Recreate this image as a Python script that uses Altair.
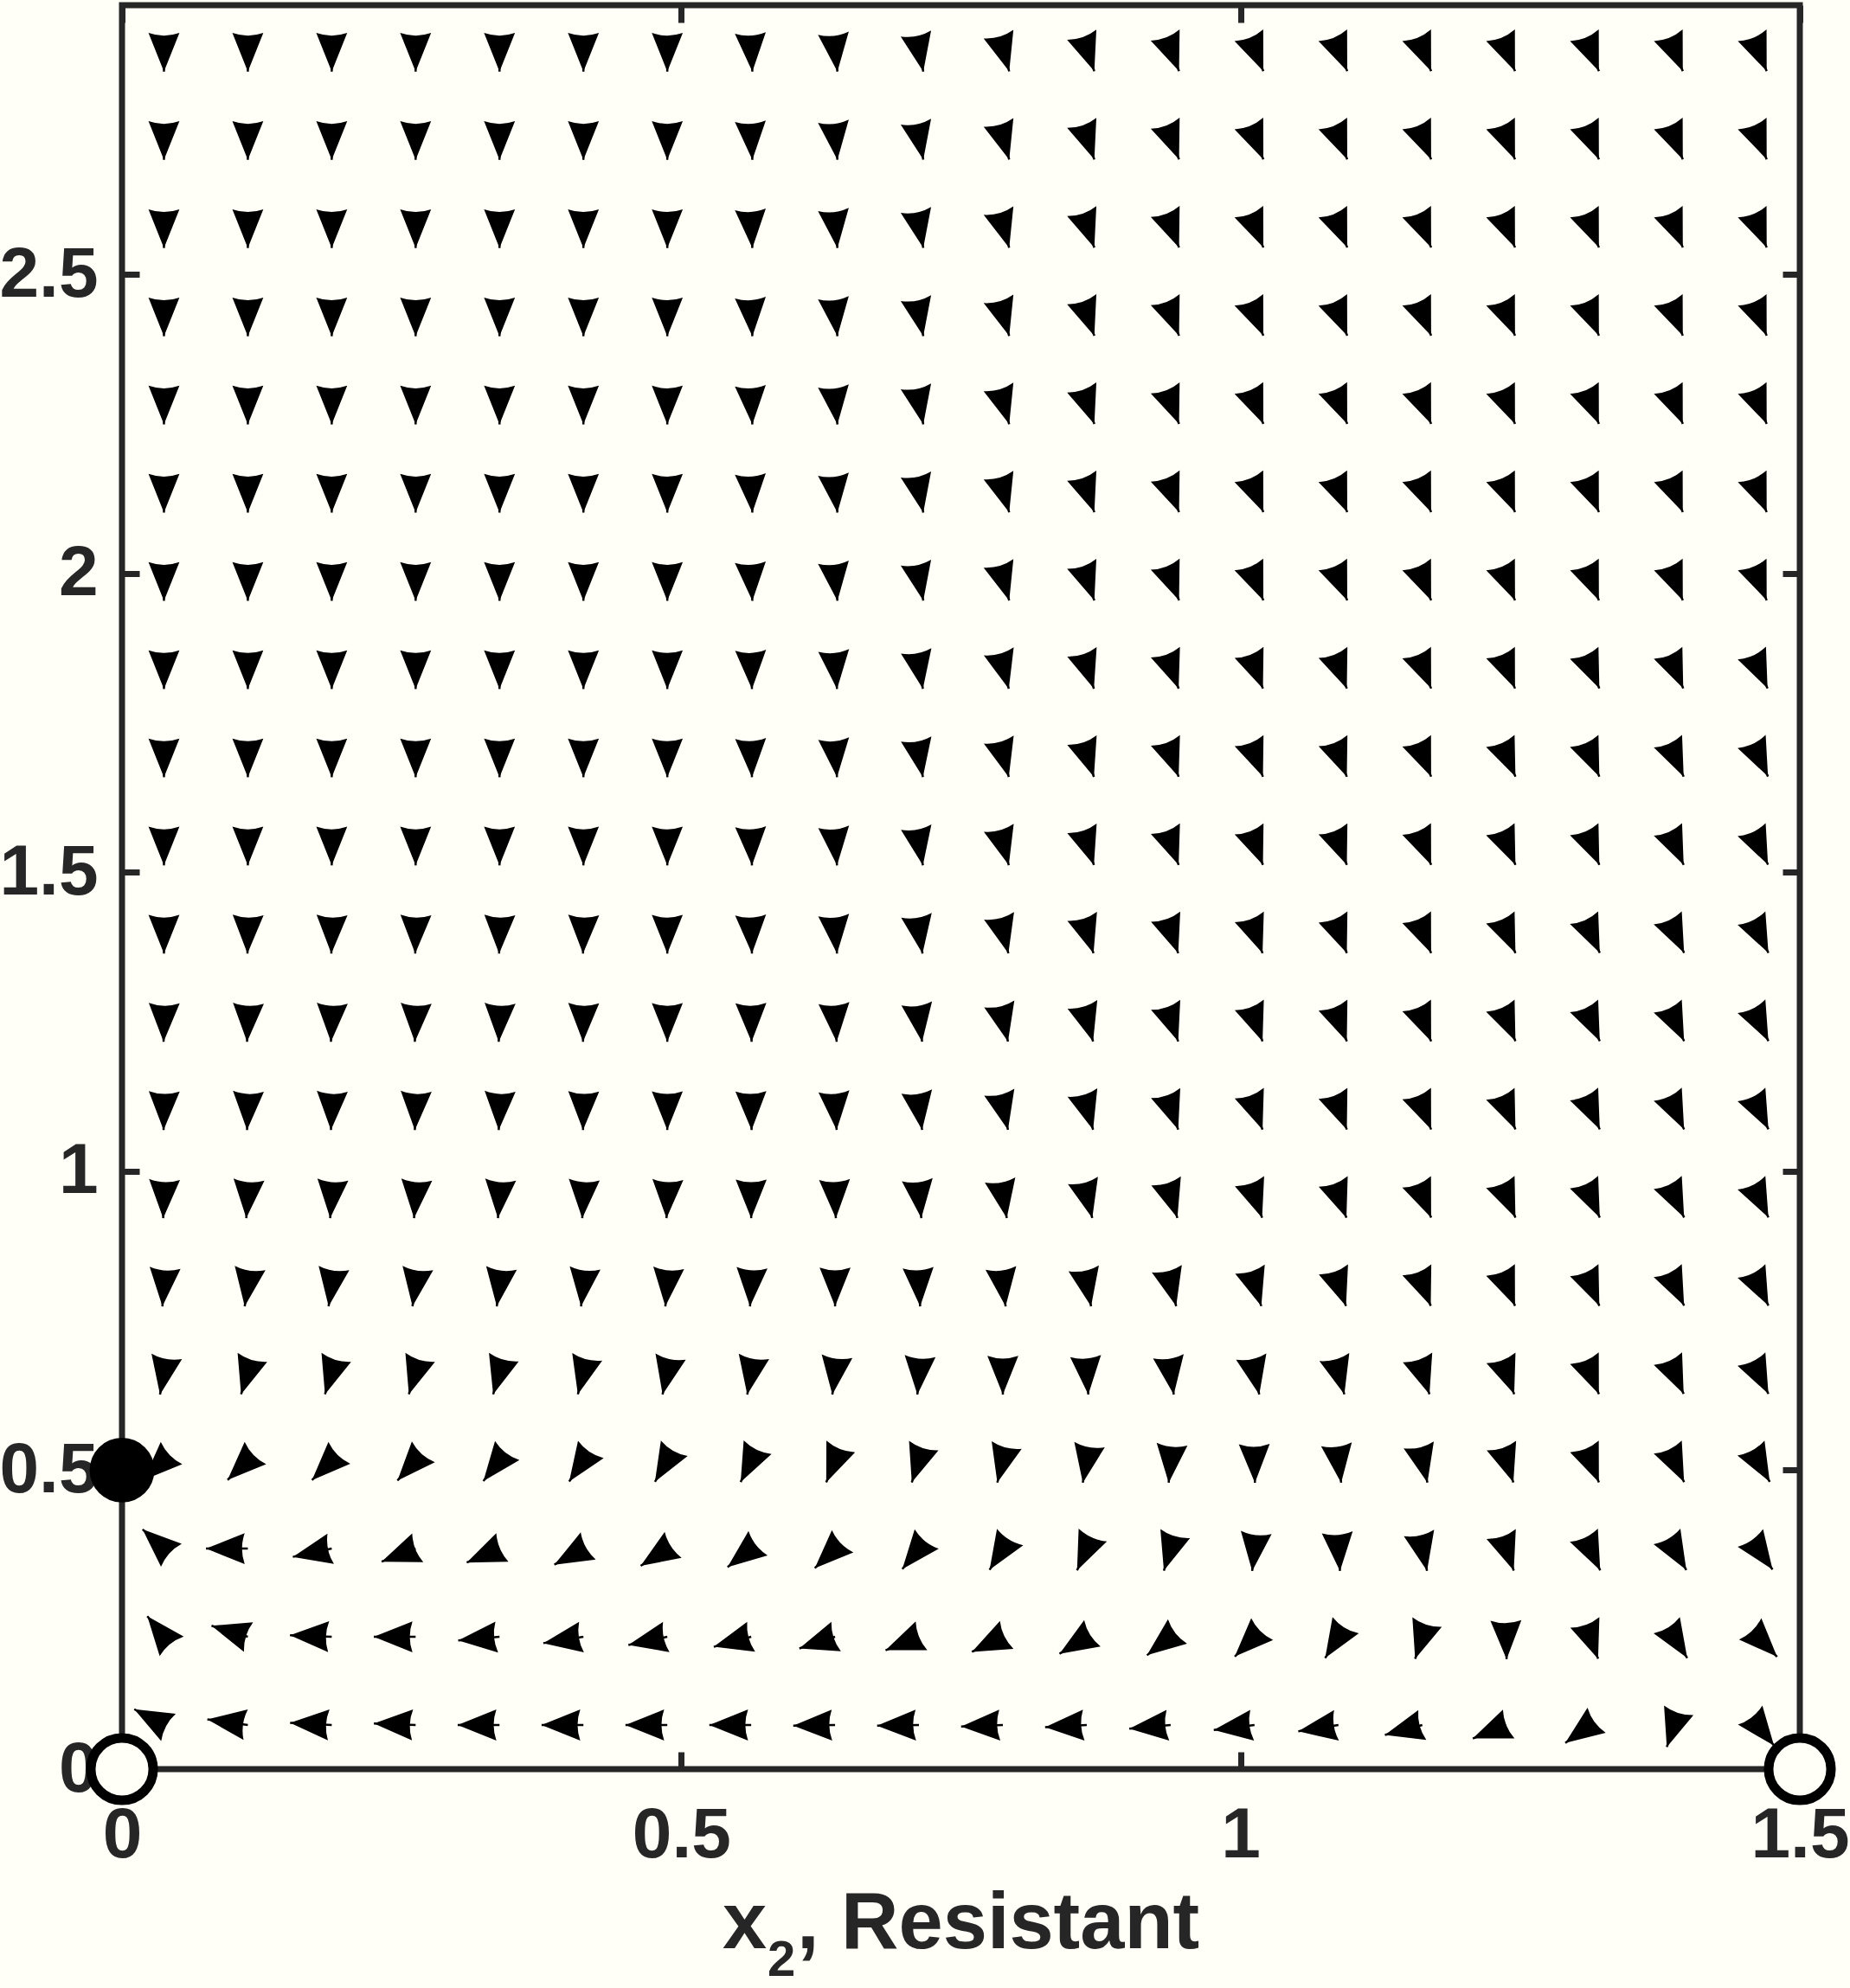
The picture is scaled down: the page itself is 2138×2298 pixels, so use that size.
import altair as alt
import pandas as pd

# ---------------- data ----------------
# grid of the direction field (cell centres)
x_grid = [0.0375, 0.1125, 0.1875, 0.2625, 0.3375, 0.4125, 0.4875, 0.5625, 0.6375, 0.7125,
          0.7875, 0.8625, 0.9375, 1.0125, 1.0875, 1.1625, 1.2375, 1.3125, 1.3875, 1.4625]
y_grid = [0.0738, 0.2213, 0.3688, 0.5163, 0.6638, 0.8113, 0.9588, 1.1063, 1.2538, 1.4013,
          1.5488, 1.6963, 1.8438, 1.9913, 2.1388, 2.2863, 2.4338, 2.5813, 2.7288, 2.8763]

# on-screen arrow directions in degrees (0 = right, 90 = up, 180 = left, 270 = down)
# one list per row, bottom row first
angles = [
    [152, 172, 177, 178, 180, 180, 180, 180, 181, 181, 182, 183, 185, 187, 189, 195, 202, 216, 252, 308],
    [129, 163, 178, 180, 185, 189, 192, 195, 198, 202, 206, 212, 218, 225, 238, 252, 271, 290, 302, 314],
    [138, 180, 192, 201, 203, 209, 213, 218, 224, 231, 238, 246, 253, 264, 274, 282, 289, 295, 300, 305],
    [224, 224, 225, 228, 232, 236, 240, 244, 248, 252, 256, 260, 265, 271, 277, 283, 288, 292, 295, 299],
    [260, 253, 253, 253, 254, 256, 258, 260, 263, 266, 270, 274, 278, 282, 285, 288, 290, 292, 294, 296],
    [266, 262, 262, 262, 263, 264, 265, 267, 270, 273, 277, 281, 284, 287, 289, 291, 292, 293, 295, 296],
    [268, 266, 266, 266, 266, 267, 268, 270, 272, 276, 280, 284, 287, 289, 290, 292, 293, 294, 295, 296],
    [269, 268, 268, 268, 268, 269, 270, 271, 274, 278, 283, 286, 289, 290, 291, 292, 293, 294, 295, 296],
    [269, 268, 268, 268, 268, 269, 270, 271, 274, 278, 283, 286, 289, 290, 291, 292, 293, 294, 295, 296],
    [270, 269, 269, 269, 269, 269, 270, 272, 275, 279, 284, 287, 289, 290, 291, 292, 293, 294, 295, 296],
    [270, 270, 270, 270, 270, 270, 270, 272, 275, 280, 285, 288, 290, 291, 291, 292, 293, 293, 294, 295],
    [270, 270, 270, 270, 270, 270, 270, 272, 275, 280, 285, 288, 290, 291, 291, 292, 293, 293, 294, 295],
    [270, 270, 270, 270, 270, 270, 270, 272, 275, 280, 285, 288, 290, 291, 291, 292, 292, 293, 293, 294],
    [270, 270, 270, 270, 270, 270, 270, 273, 276, 281, 286, 289, 291, 292, 292, 292, 292, 292, 292, 292],
    [270, 270, 270, 270, 270, 270, 270, 273, 276, 281, 286, 289, 291, 292, 292, 292, 292, 292, 292, 292],
    [270, 270, 270, 270, 270, 270, 270, 273, 276, 281, 286, 289, 291, 292, 292, 292, 292, 292, 292, 292],
    [270, 270, 270, 270, 270, 270, 270, 273, 276, 281, 286, 289, 291, 292, 292, 292, 292, 292, 292, 292],
    [270, 270, 270, 270, 270, 270, 270, 273, 276, 281, 286, 289, 291, 292, 292, 292, 292, 292, 292, 292],
    [270, 270, 270, 270, 270, 270, 270, 273, 276, 281, 286, 289, 291, 292, 292, 292, 292, 292, 292, 292],
    [270, 270, 270, 270, 270, 270, 270, 273, 276, 281, 286, 289, 291, 292, 292, 292, 292, 292, 292, 292],
]

# equilibria
eq_x = [0.0, 0.0, 1.5]
eq_y = [0.5, 0.0, 0.0]
eq_kind = ["stable", "unstable", "unstable"]

x_ticks = [0, 0.5, 1, 1.5]
y_ticks = [0, 0.5, 1, 1.5, 2, 2.5]

# x-axis title pieces: "x" with subscript "2", then ", Resistant"
title_parts = ["x", "2", ", Resistant"]

# ---------------- tables ----------------
rows = []
for j, yv in enumerate(y_grid):
    for k, xv in enumerate(x_grid):
        rows.append({"x": xv, "y": yv, "ang": angles[j][k]})
field = pd.DataFrame(rows)
eq = pd.DataFrame({"x": eq_x, "y": eq_y, "kind": eq_kind})
titles = pd.DataFrame({"part": title_parts})

# ---------------- style ----------------
BG = "#fffff8"
INK = "#262626"
FONT = "Liberation Sans"
W, H = 1939, 2039
XMAX, YMAX = 1.5, 2.95
QLEN = 0.0374  # normalised quiver length (data units)
HEAD = "M0,0 L0.8,2 Q0,1.72 -0.8,2 Z"  # arrow head, tip at origin, pointing up

xs = alt.Scale(domain=[0, XMAX], nice=False, zero=False)
ys = alt.Scale(domain=[0, YMAX], nice=False, zero=False)


def label_axis_x():
    return alt.Axis(orient="bottom", values=x_ticks, format="~g", ticks=False, tickSize=0,
                    domain=False, grid=False, labelPadding=36, labelFontSize=82, labelFont=FONT,
                    labelFontWeight="bold", labelColor=INK, labelFlush=False, labelOverlap=False,
                    title=None)


def label_axis_y():
    return alt.Axis(orient="left", values=y_ticks, format="~g", ticks=False, tickSize=0,
                    domain=False, grid=False, labelPadding=28, labelFontSize=82, labelFont=FONT,
                    labelFontWeight="bold", labelColor=INK, labelFlush=False, labelOverlap=False,
                    title=None)


def tick_axis(orient, vals):
    return alt.Axis(orient=orient, values=vals, labels=False, ticks=True, tickSize=20,
                    tickWidth=7, tickColor=INK, domain=False, grid=False, offset=-20, title=None)


base = alt.Chart(field).transform_calculate(
    th="datum.ang * PI / 180",
).transform_calculate(
    a=f"cos(datum.th) * {XMAX} / {W}",
    b=f"sin(datum.th) * {YMAX} / {H}",
).transform_calculate(
    n="sqrt(datum.a * datum.a + datum.b * datum.b)",
).transform_calculate(
    tx=f"datum.x + {QLEN} * datum.a / datum.n",
    ty=f"datum.y + {QLEN} * datum.b / datum.n",
    rot="((90 - datum.ang) % 360 + 360) % 360",
)

shafts = base.mark_rule(color="black", strokeWidth=2.5).encode(
    x=alt.X("x:Q", scale=xs, axis=label_axis_x()),
    y=alt.Y("y:Q", scale=ys, axis=label_axis_y()),
    x2="tx:Q",
    y2="ty:Q",
)

heads = base.mark_point(shape=HEAD, filled=True, size=2000, color="black", opacity=1,
                        strokeWidth=0).encode(
    x=alt.X("tx:Q", scale=xs, axis=tick_axis("bottom", x_ticks)),
    y=alt.Y("ty:Q", scale=ys, axis=tick_axis("left", y_ticks)),
    angle=alt.Angle("rot:Q", scale=None),
)

eq_open = alt.Chart(eq).transform_filter("datum.kind == 'unstable'").mark_point(
    shape="circle", filled=True, fill=BG, stroke="black", strokeWidth=11, size=5200, opacity=1
).encode(
    x=alt.X("x:Q", scale=xs, axis=tick_axis("top", x_ticks)),
    y=alt.Y("y:Q", scale=ys, axis=tick_axis("right", y_ticks)),
)

eq_stable = alt.Chart(eq).transform_filter("datum.kind == 'stable'").mark_point(
    shape="circle", filled=True, color="black", size=5600, opacity=1
).encode(
    x=alt.X("x:Q", scale=xs, axis=None),
    y=alt.Y("y:Q", scale=ys, axis=None),
)


def title_piece(part, px, py, size):
    return alt.Chart(titles).transform_filter(f"datum.part == '{part}'").mark_text(
        align="left", baseline="alphabetic", font=FONT, fontWeight="bold",
        fontSize=size, color=INK
    ).encode(text="part:N", x=alt.value(px), y=alt.value(py))


t_x = title_piece("x", 694, 2246, 92)
t_sub = title_piece("2", 746, 2278, 58)
t_rest = title_piece(", Resistant", 780, 2246, 92)

chart = alt.layer(shafts, heads, eq_open, eq_stable, t_x, t_sub, t_rest).resolve_axis(
    x="independent", y="independent"
).properties(
    width=W, height=H,
    padding={"left": 141, "top": 6, "right": 58, "bottom": 253},
    autosize=alt.AutoSizeParams(type="none"),
    background=BG,
).configure_view(stroke=INK, strokeWidth=7)

chart.save("out.html", embed_options={"renderer": "svg", "actions": False})
